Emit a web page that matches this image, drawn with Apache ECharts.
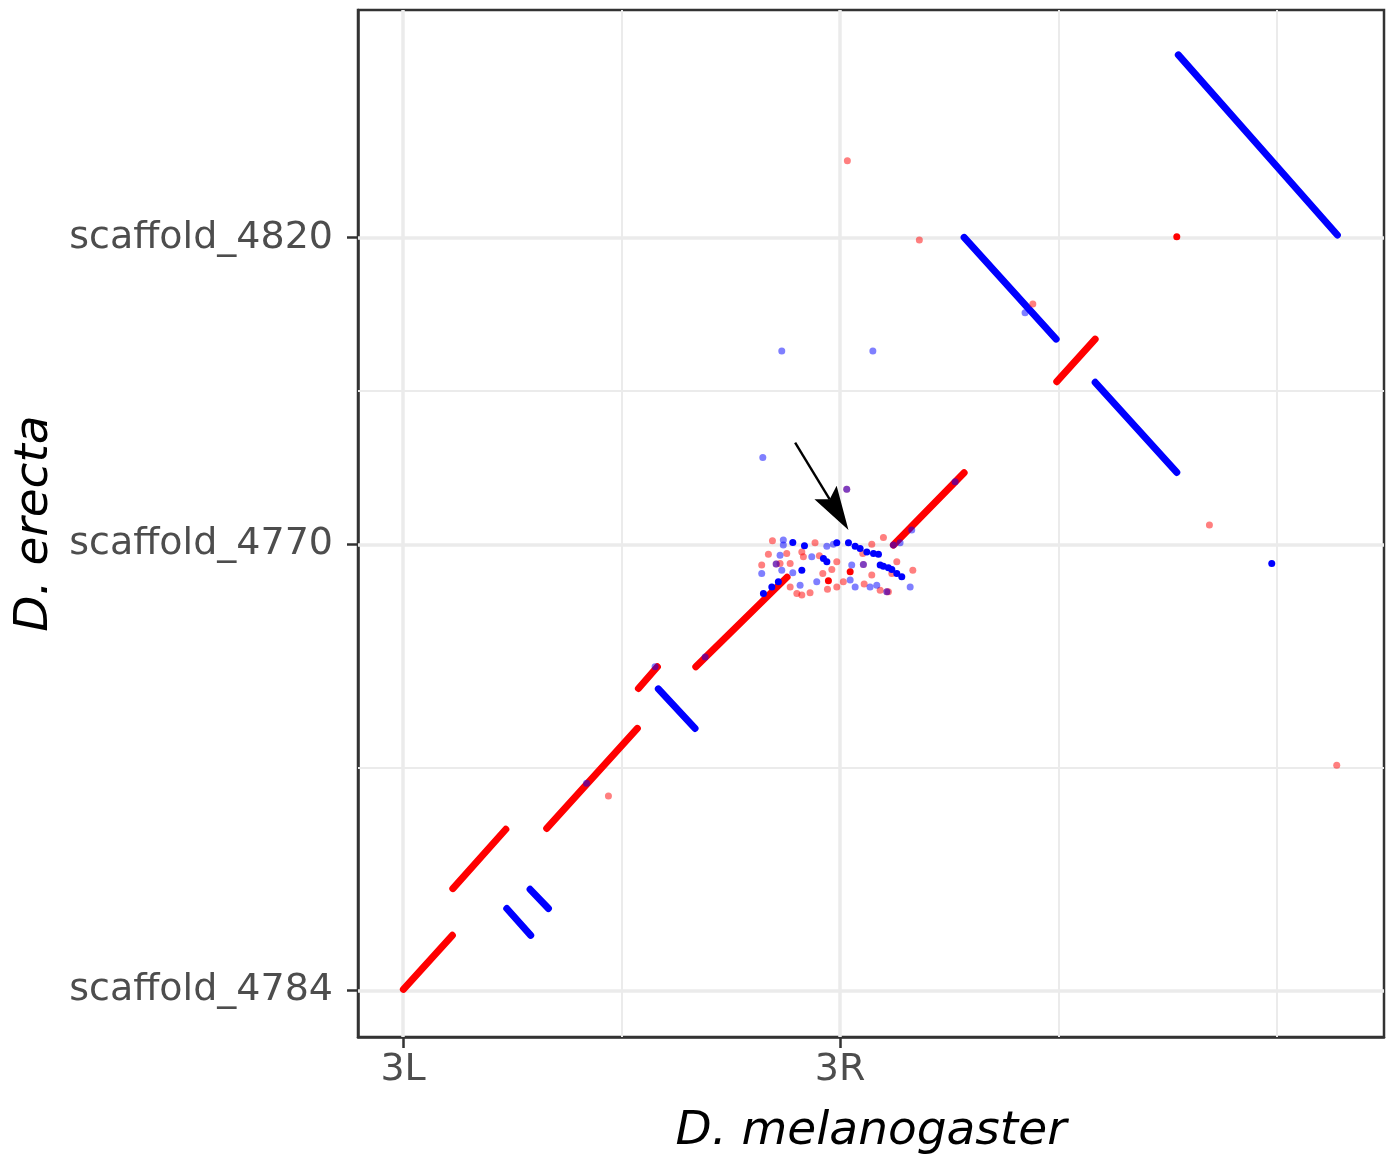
<!DOCTYPE html>
<html>
<head>
<meta charset="utf-8">
<script src="https://cdn.jsdelivr.net/npm/echarts@6/dist/echarts.min.js"></script>
<style>
    html, body { margin: 0; padding: 0; background: #fff; }
    #chart { width: 1393px; height: 1156px; }
</style>
</head>
<body>
<div id="chart"></div>
<script>
// axis breaks (cumulative Mb along each genome)
const xBreaks = [0, 28.11]
const xLabels = ['3L', '3R']
const xMinor = [14.055, 42.165, 56.22]
const yBreaks = [0, 28.8, 48.6]
const yLabels = ['scaffold_4784', 'scaffold_4770', 'scaffold_4820']
const yMinor = [14.4, 38.7]

// syntenic blocks [melX1, ereY1, melX2, ereY2]
const forwardBlocks = [
    [0.02, 0.06, 3.17, 3.55],
    [3.20, 6.57, 6.61, 10.40],
    [9.24, 10.45, 15.07, 16.91],
    [15.14, 19.49, 16.36, 20.89],
    [18.83, 20.89, 24.70, 26.68],
    [31.54, 28.75, 36.09, 33.42],
    [42.05, 39.30, 44.52, 42.05]
]
const reverseBlocks = [
    [6.67, 5.28, 8.21, 3.55],
    [8.17, 6.52, 9.35, 5.28],
    [16.42, 19.46, 18.78, 16.91],
    [36.09, 48.62, 42.01, 42.05],
    [44.52, 39.26, 49.77, 33.44],
    [49.87, 60.40, 60.10, 48.77]
]

// single hits
const forwardLight = [
    [13.21, 12.55], [28.58, 53.57], [33.21, 48.45], [40.51, 44.32], [51.87, 30.04], [60.06, 14.54], [28.54, 32.35],
    [23.76, 29.03], [23.50, 28.15], [24.68, 28.21], [24.90, 27.56], [25.65, 28.31], [25.75, 27.99], [26.50, 28.90],
    [26.78, 28.06], [27.90, 27.67], [27.58, 27.18], [27.00, 26.92], [27.30, 25.89], [27.90, 26.05], [28.32, 26.38],
    [25.33, 25.63], [25.65, 25.52], [26.18, 25.67], [24.90, 26.05], [30.15, 28.81], [30.90, 29.24], [29.57, 28.21],
    [30.15, 26.81], [29.66, 26.23], [30.69, 25.84], [31.22, 25.73], [31.44, 26.92], [31.76, 27.67], [32.79, 27.13],
    [23.07, 27.46], [24.25, 27.56], [24.00, 27.52], [29.61, 27.50], [31.12, 25.73]
]
const reverseLight = [
    [23.14, 34.41], [24.36, 41.28], [30.22, 41.28], [40.01, 43.75], [28.54, 32.35],
    [24.46, 29.07], [24.46, 28.75], [24.25, 28.10], [23.07, 26.92], [24.36, 27.13], [25.07, 26.96], [26.29, 27.99],
    [25.54, 26.16], [26.61, 26.38], [27.26, 28.68], [27.68, 28.81], [28.86, 27.46], [28.76, 26.49], [29.08, 26.05],
    [30.04, 26.05], [30.47, 26.16], [32.62, 26.05], [31.54, 28.75], [31.97, 28.90], [24.00, 27.52], [29.61, 27.50],
    [31.12, 25.73],
    [11.80, 13.37], [16.21, 20.89], [19.43, 21.53], [32.72, 29.72], [35.51, 32.84]
]
const forwardSolid = [[27.36, 26.44], [28.76, 27.02], [49.77, 48.66]]
const reverseSolid = [
    [23.18, 25.63], [23.72, 26.05], [24.14, 26.38], [25.07, 28.92], [25.82, 28.70], [25.65, 27.13], [27.04, 27.89],
    [27.26, 27.67], [27.90, 28.90], [28.65, 28.90], [29.08, 28.68], [29.40, 28.53], [29.83, 28.31], [30.26, 28.21],
    [30.58, 28.15], [30.69, 27.46], [30.90, 27.39], [31.22, 27.28], [31.44, 27.18], [31.76, 26.92], [32.08, 26.70],
    [55.88, 27.56]
]

// arrow [fromX, fromY, toX, toY]
const arrowNote = [[25.22, 35.36, 28.65, 29.72]]

const RED = '#ff0000'
const BLUE = '#0000ff'

function labelFor(breaks, labels) {
    return v => {
        const i = breaks.findIndex(b => Math.abs(b - v) < 1e-6)
        return i < 0 ? '' : labels[i]
    }
}

function blockRenderer(color) {
    return (params, api) => {
        const a = api.coord([api.value(0), api.value(1)])
        const b = api.coord([api.value(2), api.value(3)])
        return {
            type: 'line',
            shape: { x1: a[0], y1: a[1], x2: b[0], y2: b[1] },
            style: { stroke: color, lineWidth: 7, lineCap: 'round' }
        }
    }
}

function arrowRenderer(params, api) {
    const p0 = api.coord([api.value(0), api.value(1)])
    const p1 = api.coord([api.value(2), api.value(3)])
    const ang = Math.atan2(p1[1] - p0[1], p1[0] - p0[0])
    const c = Math.cos(ang)
    const s = Math.sin(ang)
    const at = (dx, dy) => [p1[0] + dx * c - dy * s, p1[1] + dx * s + dy * c]
    const len = 44
    const hw = 13
    const back = at(-len + 8, 0)
    return {
        type: 'group',
        children: [
            {
                type: 'line',
                shape: { x1: p0[0], y1: p0[1], x2: back[0], y2: back[1] },
                style: { stroke: '#000', lineWidth: 2.4 }
            },
            {
                type: 'polygon',
                shape: { points: [at(0, 0), at(-len, -hw), back, at(-len, hw)] },
                style: { fill: '#000' }
            }
        ]
    }
}

const gridLines = [
    ...xMinor.map(v => ({ xAxis: v, lineStyle: { color: '#ebebeb', width: 2, type: 'solid' } })),
    ...yMinor.map(v => ({ yAxis: v, lineStyle: { color: '#ebebeb', width: 2, type: 'solid' } })),
    ...xBreaks.map(v => ({ xAxis: v, lineStyle: { color: '#ebebeb', width: 3.5, type: 'solid' } })),
    ...yBreaks.map(v => ({ yAxis: v, lineStyle: { color: '#ebebeb', width: 3.5, type: 'solid' } }))
]

const tickLine = { color: '#333333', width: 2.5 }
const tickFont = { fontFamily: 'DejaVu Sans', fontSize: 38, color: '#4d4d4d' }
const titleFont = { fontFamily: 'DejaVu Sans', fontStyle: 'italic', fontSize: 47, color: '#000000' }

const option = {
    backgroundColor: '#ffffff',
    animation: false,
    grid: {
        left: 358, right: 9, top: 10, bottom: 119,
        outerBoundsMode: 'none', containLabel: false,
        show: true, borderColor: '#333333', borderWidth: 2.5, backgroundColor: '#ffffff'
    },
    xAxis: {
        type: 'value', min: -2.9, max: 63.1,
        name: 'D. melanogaster', nameLocation: 'middle', nameGap: 71, nameTextStyle: titleFont,
        axisLine: { show: true, onZero: false, lineStyle: tickLine },
        splitLine: { show: false },
        axisTick: { show: true, customValues: xBreaks, length: 11, lineStyle: tickLine },
        axisLabel: { customValues: xBreaks, margin: 14, formatter: labelFor(xBreaks, xLabels), ...tickFont }
    },
    yAxis: {
        type: 'value', min: -3.015, max: 63.3,
        name: 'D. erecta', nameLocation: 'middle', nameRotate: 90, nameGap: 299, nameTextStyle: titleFont,
        axisLine: { show: true, onZero: false, lineStyle: tickLine },
        splitLine: { show: false },
        axisTick: { show: true, customValues: yBreaks, length: 11, lineStyle: tickLine },
        axisLabel: { customValues: yBreaks, margin: 25, formatter: labelFor(yBreaks, yLabels), ...tickFont }
    },
    series: [
        {
            type: 'scatter', data: [], silent: true,
            markLine: { silent: true, z: 1, symbol: ['none', 'none'], label: { show: false }, animation: false, data: gridLines }
        },
        { type: 'custom', renderItem: blockRenderer(RED), data: forwardBlocks, z: 3, encode: { x: [0, 2], y: [1, 3] } },
        { type: 'custom', renderItem: blockRenderer(BLUE), data: reverseBlocks, z: 3, encode: { x: [0, 2], y: [1, 3] } },
        { type: 'scatter', data: forwardLight, symbolSize: 7, z: 4, itemStyle: { color: RED, opacity: 0.5 } },
        { type: 'scatter', data: forwardSolid, symbolSize: 7, z: 4, itemStyle: { color: RED, opacity: 1 } },
        { type: 'scatter', data: reverseLight, symbolSize: 7, z: 4, itemStyle: { color: BLUE, opacity: 0.5 } },
        { type: 'scatter', data: reverseSolid, symbolSize: 7, z: 4, itemStyle: { color: BLUE, opacity: 1 } },
        { type: 'custom', renderItem: arrowRenderer, data: arrowNote, z: 5, encode: { x: [0, 2], y: [1, 3] } }
    ]
}

const chart = echarts.init(document.getElementById('chart'))
chart.setOption(option)
window.addEventListener('resize', () => chart.resize())
</script>
</body>
</html>
